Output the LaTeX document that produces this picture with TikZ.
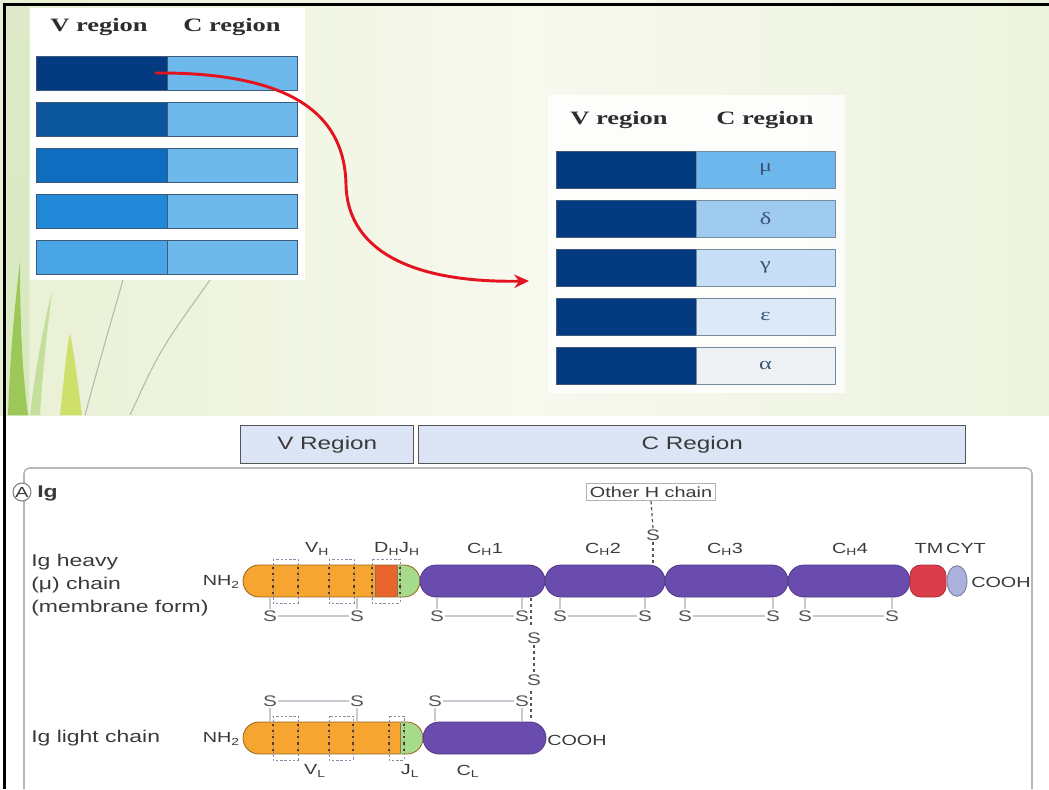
\documentclass[tikz,border=0pt]{standalone}
\usepackage{fontspec}
\setmainfont[FakeStretch=1.35]{Liberation Sans}
\newfontfamily\hdrfont[FakeStretch=1.4]{Liberation Serif}
\usetikzlibrary{arrows.meta,shapes.misc,shapes.geometric}

\definecolor{bgL}{HTML}{E8F0D4}
\definecolor{bgM}{HTML}{F8F9EF}
\definecolor{bgR}{HTML}{ECF3DE}
\definecolor{grassA}{HTML}{9CC85A}
\definecolor{grassP}{HTML}{DDE9C8}
\definecolor{grassY}{HTML}{CFE06A}
\definecolor{stem}{HTML}{B3BBA5}
\definecolor{va}{HTML}{033A80}
\definecolor{vb}{HTML}{0A559C}
\definecolor{vc}{HTML}{0E6DBE}
\definecolor{vd}{HTML}{2288D8}
\definecolor{ve}{HTML}{4AA5E6}
\definecolor{cl}{HTML}{6DB9EC}
\definecolor{cmu}{HTML}{6DB7EC}
\definecolor{cdelta}{HTML}{9FCBF0}
\definecolor{cgamma}{HTML}{C6DFF6}
\definecolor{ceps}{HTML}{DCEAF7}
\definecolor{calpha}{HTML}{EDF1F3}
\definecolor{cellline}{HTML}{3D5A78}
\definecolor{hdrgray}{HTML}{2E2E2E}
\definecolor{greekc}{HTML}{3B5575}
\definecolor{arrowred}{HTML}{E3141F}
\definecolor{regfill}{HTML}{DCE5F5}
\definecolor{boxline}{HTML}{555555}
\definecolor{txt}{HTML}{3A3A3A}
\definecolor{sgray}{HTML}{555555}
\definecolor{sline}{HTML}{C9C9D2}
\definecolor{framegray}{HTML}{B8B8B8}
\definecolor{vorange}{HTML}{F7A531}
\definecolor{dorange}{HTML}{E8642C}
\definecolor{jgreen}{HTML}{A6DB8C}
\definecolor{cpurple}{HTML}{6A4CAE}
\definecolor{tmred}{HTML}{DC3D4A}
\definecolor{cytlav}{HTML}{A9B1DC}
\definecolor{dashc}{HTML}{8C8CA8}
\definecolor{dotc}{HTML}{5A3A10}

\begin{document}
\begin{tikzpicture}[x=0.75pt,y=-0.75pt,
  cell/.style={draw=cellline,line width=0.7pt,anchor=north west,inner sep=0pt,outer sep=0pt},
  hdr/.style={font=\hdrfont\bfseries\fontsize{14.2}{17}\selectfont,text=hdrgray,inner sep=0pt},
  greek/.style={font=\hdrfont\fontsize{13}{15}\selectfont,text=greekc},
  regbox/.style={draw=boxline,line width=1.1pt,fill=regfill,anchor=north west,inner sep=0pt,
    font=\fontsize{13.5}{16}\selectfont,text=txt},
  lbl/.style={font=\fontsize{12.75}{15}\selectfont,text=txt,inner sep=0pt},
  small/.style={font=\fontsize{11}{13}\selectfont,text=txt,inner sep=0pt},
  sl/.style={font=\fontsize{11.5}{13}\selectfont,text=sgray,inner sep=0.8pt},
  seg/.style={rounded rectangle,inner sep=0pt,outer sep=0pt,minimum height=24pt},
  purpleseg/.style={seg,fill=cpurple,draw=cpurple!75!black,line width=0.6pt},
  ssline/.style={draw=sline,line width=0.8pt},
  dashbox/.style={draw=dashc,line width=0.6pt,dash pattern=on 1.8pt off 1.4pt},
  dotv/.style={draw=dotc,line width=1.1pt,dash pattern=on 1.6pt off 3pt},
  bridge/.style={draw=sgray,line width=0.9pt,dash pattern=on 2.5pt off 2pt}
]
\useasboundingbox (0,0) rectangle (1049,789);

% ---------- slide background ----------
\shade[left color=bgL,right color=bgR,middle color=bgM] (0,0) rectangle (1049,415);
\shade[top color=grassP,bottom color=grassA!40] (7,6) rectangle (29,415);
\fill[grassA] (8,415) .. controls (10,360) and (14,310) .. (20,262)
  .. controls (20,320) and (22,370) .. (28,415) -- cycle;
\fill[grassA!60] (30,415) .. controls (34,380) and (42,330) .. (52,292)
  .. controls (46,340) and (42,380) .. (40,415) -- cycle;
\fill[grassY] (60,415) .. controls (64,380) and (66,352) .. (70,333)
  .. controls (74,352) and (78,385) .. (82,415) -- cycle;
\draw[stem,line width=0.8pt] (85,415) .. controls (100,360) .. (123,280);
\draw[stem,line width=0.8pt] (130,415) .. controls (160,350) .. (210,280);

% white panels behind the two tables
\fill[white] (30,8) rectangle (305,280);
\fill[white,opacity=0.85] (548,95) rectangle (845,393);

% ---------- left table: many V regions, one C region ----------
\node[hdr] (lhv) at (99,27) {V region};
\node[hdr] (lhc) at (232,27) {C region};
\foreach \i/\tp/\col in {1/56/va,2/102/vb,3/148/vc,4/194/vd,5/240/ve}{
  \node[cell,fill=\col,minimum width=98.25pt,minimum height=25.5pt] (lv\i) at (36,\tp) {};
  \node[cell,fill=cl,minimum width=97.5pt,minimum height=25.5pt] (lc\i) at (167,\tp) {};
}

% ---------- right table: one V region, five C regions ----------
\node[hdr] (rhv) at (619,120) {V region};
\node[hdr] (rhc) at (765,120) {C region};
\foreach \i/\tp/\col/\g in {1/151/cmu/μ,2/200/cdelta/δ,3/249/cgamma/γ,4/298/ceps/ε,5/347/calpha/α}{
  \node[cell,fill=va,minimum width=105pt,minimum height=27.75pt] (rv\i) at (556,\tp) {};
  \node[cell,fill=\col,draw=cellline!70,minimum width=104.25pt,minimum height=27.75pt,greek] (rc\i) at (696,\tp) {\g};
}

% ---------- switching arrow ----------
\coordinate (arrowstart) at (155,73);
\coordinate (arrowend) at (529,281);
\draw[arrowred,line width=2.2pt,-{Stealth[length=11pt,width=10pt]}]
  (arrowstart) .. controls (300,72) and (345,120) .. (346,185)
  .. controls (348,255) and (420,283) .. (arrowend);

% ---------- lower figure ----------
\draw[framegray,line width=1.2pt,rounded corners=4pt] (24,789) -- (24,468) -- (1032,468) -- (1032,789);
\node[regbox,minimum width=129.75pt,minimum height=28.5pt] (vreg) at (240,425) {V Region};
\node[regbox,minimum width=410.25pt,minimum height=28.5pt] (creg) at (418,425) {C Region};

\node[circle,draw=gray,fill=white,line width=0.8pt,inner sep=0pt,minimum size=13.5pt,
  font=\fontsize{11}{13}\selectfont,text=txt] (panelA) at (22,492) {A};
\node[lbl,font=\bfseries\fontsize{12.75}{15}\selectfont,anchor=west] (ig) at (37,493) {Ig};

\node[lbl,anchor=base west] (hl1) at (31,566) {Ig heavy};
\node[lbl,anchor=base west] (hl2) at (31,589) {(μ) chain};
\node[lbl,anchor=base west] (hl3) at (31,612) {(membrane form)};
\node[lbl,anchor=west] (ll) at (31,738) {Ig light chain};

% heavy chain variable part (V_H, D_H, J_H)
\begin{scope}
  \clip[rounded corners=12pt] (243,565) rectangle (420,597);
  \fill[vorange] (243,565) rectangle (375,597);
  \fill[dorange] (375,565) rectangle (397,597);
  \fill[jgreen] (397,565) rectangle (420,597);
\end{scope}
\node[seg,draw=vorange!60!black,line width=0.6pt,minimum width=132.75pt] (vh) at (331.5,581) {};
\draw[dotc!70,line width=0.6pt] (375,566) -- (375,596) (397,566) -- (397,596);

% heavy chain constant part
\node[purpleseg,minimum width=93.75pt] (ch1) at (482.5,581) {};
\node[purpleseg,minimum width=90pt] (ch2) at (605,581) {};
\node[purpleseg,minimum width=92.25pt] (ch3) at (726.5,581) {};
\node[purpleseg,minimum width=91.5pt] (ch4) at (849,581) {};
\node[rectangle,rounded corners=8pt,fill=tmred,draw=tmred!75!black,line width=0.6pt,
  minimum width=27pt,minimum height=24pt,inner sep=0pt] (tm) at (928,581) {};
\node[ellipse,fill=cytlav,draw=cytlav!70!black,line width=0.6pt,
  minimum width=15pt,minimum height=23pt,inner sep=0pt] (cyt) at (957,581) {};

% framework boundaries on the heavy V region
\foreach \a/\b in {273/298,329/354,372/400}{
  \draw[dashbox] (\a,559) rectangle (\b,603);
  \draw[dotv] (\a,567) -- (\a,596) (\b,567) -- (\b,596);
}

% heavy chain labels
\node[small] (lvh) at (317,549) {V\textsubscript{H}};
\node[small] (ldj) at (397,549) {D\textsubscript{H}J\textsubscript{H}};
\node[small] (lch1) at (485,549) {C\textsubscript{H}1};
\node[small] (lch2) at (603,549) {C\textsubscript{H}2};
\node[small] (lch3) at (725,549) {C\textsubscript{H}3};
\node[small] (lch4) at (850,549) {C\textsubscript{H}4};
\node[small] (ltm) at (929,548) {TM};
\node[small] (lcyt) at (966,548) {CYT};
\node[small,anchor=east] (hnh) at (240,582) {NH\textsubscript{2}};
\node[small,anchor=west] (hcooh) at (971,582) {COOH};

% intrachain disulfide bonds of the heavy chain
\foreach \n/\x in {1/270,2/357,3/437,4/522,5/560,6/645,7/685,8/773,9/805,10/892}{
  \node[sl] (hs\n) at (\x,616) {S};
  \draw[ssline] (\x,598) -- (hs\n.north);
}
\foreach \a/\b in {1/2,3/4,5/6,7/8,9/10}{
  \draw[ssline] (hs\a) -- (hs\b);
}

% link to the other heavy chain
\node[draw=gray!60,line width=0.6pt,fill=white,small,inner sep=2.5pt] (otherH) at (651,492) {Other H chain};
\node[sl,fill=white] (hsx) at (653,535) {S};
\draw[bridge] (otherH.south) -- (hsx.north);
\draw[bridge] (hsx.south) -- (653,565);

% light chain
\begin{scope}
  \clip[rounded corners=12pt] (243,722) rectangle (423,754);
  \fill[vorange] (243,722) rectangle (400,754);
  \fill[jgreen] (400,722) rectangle (423,754);
\end{scope}
\node[seg,draw=vorange!60!black,line width=0.6pt,minimum width=135pt] (vl) at (333,738) {};
\draw[dotc!70,line width=0.6pt] (400,723) -- (400,753);
\node[purpleseg,minimum width=92.25pt] (cl) at (484.5,738) {};
\foreach \a/\b in {273/298,329/353,389/404}{
  \draw[dashbox] (\a,716) rectangle (\b,760);
  \draw[dotv] (\a,724) -- (\a,752) (\b,724) -- (\b,752);
}
\node[small,anchor=east] (lnh) at (240,739) {NH\textsubscript{2}};
\node[small,anchor=west] (lcooh) at (547,740) {COOH};
\node[small] (lvl) at (315,771) {V\textsubscript{L}};
\node[small] (ljl) at (410,771) {J\textsubscript{L}};
\node[small] (lcl) at (468,771) {C\textsubscript{L}};

\foreach \n/\x in {1/270,2/357,3/435,4/522}{
  \node[sl] (ls\n) at (\x,701) {S};
  \draw[ssline] (ls\n.south) -- (\x,721);
}
\draw[ssline] (ls1) -- (ls2);
\draw[ssline] (ls3) -- (ls4);

% interchain disulfide bridge between heavy and light chain
\node[sl,fill=white] (bs1) at (534,638) {S};
\node[sl,fill=white] (bs2) at (534,680) {S};
\draw[bridge] (531,598) -- (531,626);
\draw[bridge] (bs1.south) -- (bs2.north);
\draw[bridge] (531,691) -- (531,721);

% slide border
\draw[black,line width=2.4pt] (4.5,789) -- (4.5,4.5) -- (1049,4.5);
\end{tikzpicture}
\end{document}
